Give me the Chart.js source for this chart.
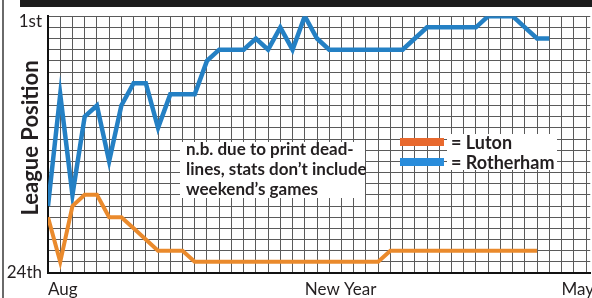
<!DOCTYPE html>
<html>
<head>
<meta charset="utf-8">
<script src="https://cdn.jsdelivr.net/npm/chart.js@4.4.0/dist/chart.umd.min.js"></script>
<style>
  html, body { margin: 0; padding: 0; background: #fff; }
  #wrap { position: relative; width: 592px; height: 298px; overflow: hidden; background: #fff; }
  #wrap canvas { position: absolute; left: 0; top: 0; }
  #topbar { position: absolute; left: 20px; top: 0; width: 572px; height: 7px; background: #1c1c1c; }
  #frame { position: absolute; left: 2px; top: 0; width: 2px; height: 298px; background: #6a6a6a; }
</style>
</head>
<body>
<div id="wrap">
  <canvas id="myChart" width="592" height="298"></canvas>
  <div id="topbar"></div>
  <div id="frame"></div>
</div>
<script>
// league position after each game, 1 = top, 24 = bottom
const lutonPos = [19, 23, 18, 17, 17, 19, 19, 20, 21, 22, 22, 22, 23,
    23, 23, 23, 23, 23, 23, 23, 23, 23, 23, 23, 23, 23, 23, 23,
    22, 22, 22, 22, 22, 22, 22, 22, 22, 22, 22, 22, 22];
const rotherhamPos = [18, 8, 17, 10, 9, 14, 9, 7, 7, 11,
    8, 8, 8, 5, 4, 4, 4, 3, 4, 2,
    4, 1, 3, 4, 4, 4, 4, 4, 4, 4,
    3, 2, 2, 2, 2, 2, 1, 1, 1, 2,
    3, 3];

const teamNames = ["Luton", "Rotherham"];
const xLabelTicks = [0, 21, 42];
const xLabelTexts = ["Aug", "New Year", "May"];
const yLabelTicks = [1, 24];
const yLabelTexts = [["", "1st"], "24th"];
const noteLines = ["n.b. due to print dead-", "lines, stats don\u2019t include", "weekend\u2019s games"];
const yTitle = "League Position";

const textColor = "#231f20";

function toPoints(arr) {
    return arr.map((y, i) => ({ x: i, y }));
}

const extras = {
    id: "extras",
    beforeDatasetsDraw(chart) {
        const ctx = chart.ctx;
        ctx.save();

        // note box
        ctx.fillStyle = "#fff";
        ctx.fillRect(180, 142, 185, 56);
        ctx.fillStyle = textColor;
        ctx.font = "bold 17px Lato";
        ctx.textBaseline = "middle";
        ctx.textAlign = "left";
        noteLines.forEach((line, i) => ctx.fillText(line, 186, 150 + i * 20));

        // legend
        ctx.fillStyle = "#fff";
        ctx.fillRect(447, 134, 110, 36);
        ctx.font = "bold 18px Lato";
        chart.data.datasets.forEach((ds, i) => {
            const y = 142 + i * 20;
            ctx.fillStyle = ds.legendColor;
            ctx.fillRect(400, y - 4, 44, 8);
            ctx.fillStyle = textColor;
            ctx.fillText("= " + ds.label, 451, y + 1);
        });

        // y title
        ctx.translate(31, 138);
        ctx.rotate(-Math.PI / 2);
        ctx.textAlign = "center";
        ctx.font = "bold 22px Lato";
        ctx.fillText(yTitle, 0, 0);
        ctx.restore();
    }
};

const ctx = document.getElementById("myChart").getContext("2d");
const chart = new Chart(ctx, {
    type: "line",
    data: {
        datasets: [
            {
                label: teamNames[0],
                data: toPoints(lutonPos),
                borderColor: "#ea8a2c",
                legendColor: "#e8692e",
                borderWidth: 4,
                pointRadius: 0,
                tension: 0,
                fill: false
            },
            {
                label: teamNames[1],
                data: toPoints(rotherhamPos),
                borderColor: "#2480c4",
                legendColor: "#2a8ddb",
                borderWidth: 4.5,
                pointRadius: 0,
                tension: 0,
                fill: false
            }
        ]
    },
    options: {
        responsive: false,
        animation: false,
        devicePixelRatio: 1,
        layout: {
            autoPadding: false,
            padding: { top: 13, right: 0, bottom: 0, left: 0 }
        },
        plugins: {
            legend: { display: false },
            tooltip: { enabled: false }
        },
        scales: {
            x: {
                type: "linear",
                min: 0,
                max: 44.35,
                afterFit: (scale) => { scale.height = 25; },
                grid: { color: "#5a5a5a", lineWidth: 1, drawTicks: false },
                border: { color: "#111", width: 2 },
                ticks: {
                    stepSize: 1,
                    autoSkip: false,
                    includeBounds: false,
                    maxRotation: 0,
                    align: "start",
                    padding: 6,
                    color: textColor,
                    font: { family: "Lato", size: 17 },
                    callback: (v) => {
                        const k = xLabelTicks.indexOf(v);
                        return k >= 0 ? xLabelTexts[k] : "";
                    }
                }
            },
            y: {
                reverse: true,
                min: 1,
                max: 24,
                afterFit: (scale) => { scale.width = 48; },
                grid: { color: "#5a5a5a", lineWidth: 1, drawTicks: false },
                border: { color: "#111", width: 2 },
                ticks: {
                    stepSize: 1,
                    autoSkip: false,
                    padding: 6,
                    color: textColor,
                    font: { family: "Lato", size: 17, lineHeight: 0.6 },
                    callback: (v) => {
                        const k = yLabelTicks.indexOf(v);
                        return k >= 0 ? yLabelTexts[k] : "";
                    }
                }
            }
        }
    },
    plugins: [extras]
});
</script>
</body>
</html>
